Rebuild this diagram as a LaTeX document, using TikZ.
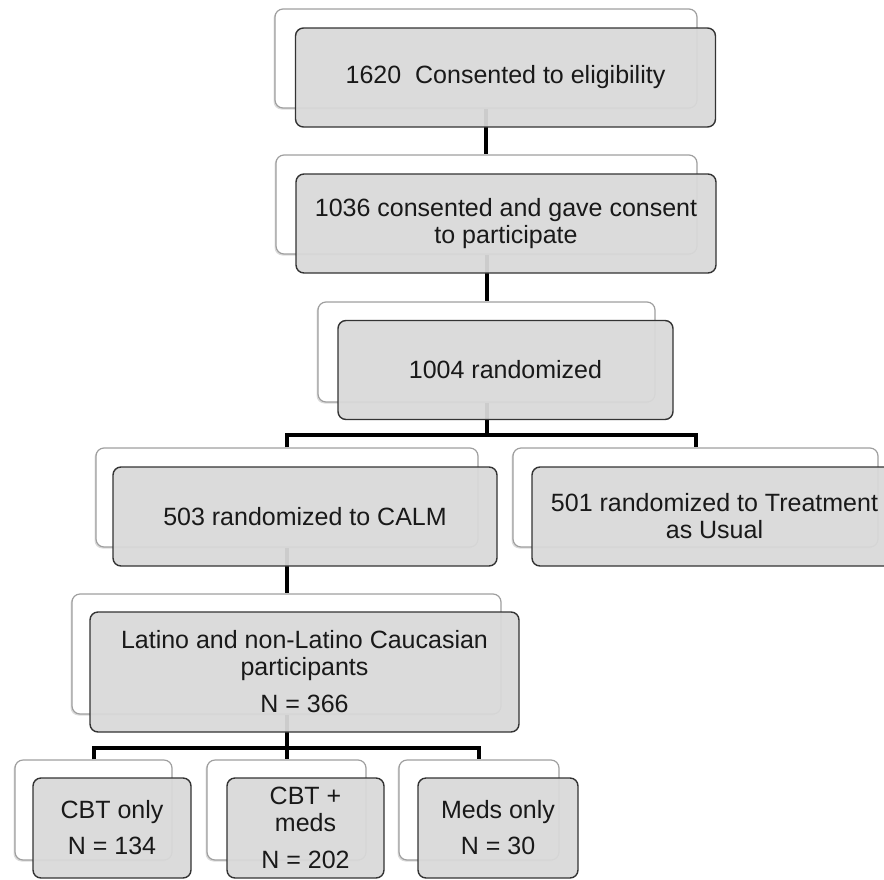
\documentclass[tikz,border=0pt]{standalone}
\usepackage{fontspec}
\setmainfont{Liberation Sans}
\usetikzlibrary{shadows}
\pgfdeclarelayer{back}
\pgfdeclarelayer{background}
\pgfsetlayers{back,background,main}

\begin{document}
\begin{tikzpicture}[x=1pt, y=-1pt]
\tikzstyle{backbox}=[rectangle,
                     draw=gray!75,
                     fill=white,
                     line width=1.2pt,
                     rounded corners=8pt,
                     drop shadow={shadow xshift=-1.5pt, shadow yshift=-1.5pt,
                                  fill=black!40, opacity=0.35}]
\tikzstyle{frontbox}=[rectangle,
                      draw=black!80,
                      fill=black!15,
                      fill opacity=0.94,
                      text opacity=1,
                      text=black!90,
                      line width=1.4pt,
                      rounded corners=8pt,
                      align=center,
                      font=\fontsize{25}{27}\selectfont]
\tikzstyle{link}=[line width=4pt, draw=black, line join=miter]

\path[use as bounding box] (0,0) rectangle (884,879);
\clip (0,0) rectangle (884,879);

% back boxes
\begin{pgfonlayer}{back}
\node[backbox, minimum width=422pt, minimum height=99pt] (elig-b) at (486,58.5) {};
\node[backbox, minimum width=421pt, minimum height=99pt] (part-b) at (486.5,204.5) {};
\node[backbox, minimum width=337pt, minimum height=100pt] (rand-b) at (486.5,352) {};
\node[backbox, minimum width=382pt, minimum height=99pt] (calm-b) at (287,497.5) {};
\node[backbox, minimum width=365pt, minimum height=99pt] (tau-b) at (695.5,497.5) {};
\node[backbox, minimum width=429pt, minimum height=120pt] (latino-b) at (286.5,654) {};
\node[backbox, minimum width=157pt, minimum height=100pt] (cbt-b) at (93.5,810) {};
\node[backbox, minimum width=159pt, minimum height=100pt] (cbtmeds-b) at (286.5,810) {};
\node[backbox, minimum width=160pt, minimum height=100pt] (meds-b) at (479,810) {};
\end{pgfonlayer}

% front boxes
\node[frontbox, minimum width=420pt, minimum height=99pt] (elig)
  at ([shift={(19.5,19)}]elig-b.center) {1620~~Consented to eligibility};
\node[frontbox, minimum width=420pt, minimum height=99pt] (part)
  at ([shift={(19.5,19)}]part-b.center) {1036 consented and gave consent\\to participate};
\node[frontbox, minimum width=335pt, minimum height=99pt] (rand)
  at ([shift={(19,18)}]rand-b.center) {1004 randomized};
\node[frontbox, minimum width=384pt, minimum height=99pt] (calm)
  at ([shift={(18,19)}]calm-b.center) {503 randomized to CALM};
\node[frontbox, minimum width=365pt, minimum height=99pt] (tau)
  at ([shift={(19,19)}]tau-b.center) {501 randomized to Treatment\\as Usual};
\node[frontbox, minimum width=429pt, minimum height=120pt] (latino)
  at ([shift={(18,18)}]latino-b.center)
  {Latino and non-Latino Caucasian\\participants\\[10pt]N = 366};
\node[frontbox, minimum width=158pt, minimum height=100pt] (cbt)
  at ([shift={(18.5,18)}]cbt-b.center) {CBT only\\[9pt]N = 134};
\node[frontbox, minimum width=157pt, minimum height=100pt] (cbtmeds)
  at ([shift={(19,18)}]cbtmeds-b.center) {CBT +\\meds\\[10pt]N = 202};
\node[frontbox, minimum width=160pt, minimum height=100pt] (meds)
  at ([shift={(19,18)}]meds-b.center) {Meds only\\[9pt]N = 30};

% connectors
\begin{pgfonlayer}{background}
\path (rand-b.center) ++(0,83) coordinate (split-rand);
\path (latino-b.center) ++(0,94) coordinate (split-latino);

\draw[link] (elig-b.south) -- (elig-b.south |- part-b.north);
\draw[link] (part-b.south) -- (part-b.south |- rand-b.north);
\draw[link] (rand-b.south) -- (split-rand);
\draw[link] (calm-b.north) |- (split-rand) -| (tau-b.north);
\draw[link] (calm-b.south) -- (calm-b.south |- latino-b.north);
\draw[link] (latino-b.south) -- (latino-b.south |- cbtmeds-b.north);
\draw[link] (cbt-b.north) |- (split-latino) -| (meds-b.north);
\end{pgfonlayer}
\end{tikzpicture}
\end{document}
